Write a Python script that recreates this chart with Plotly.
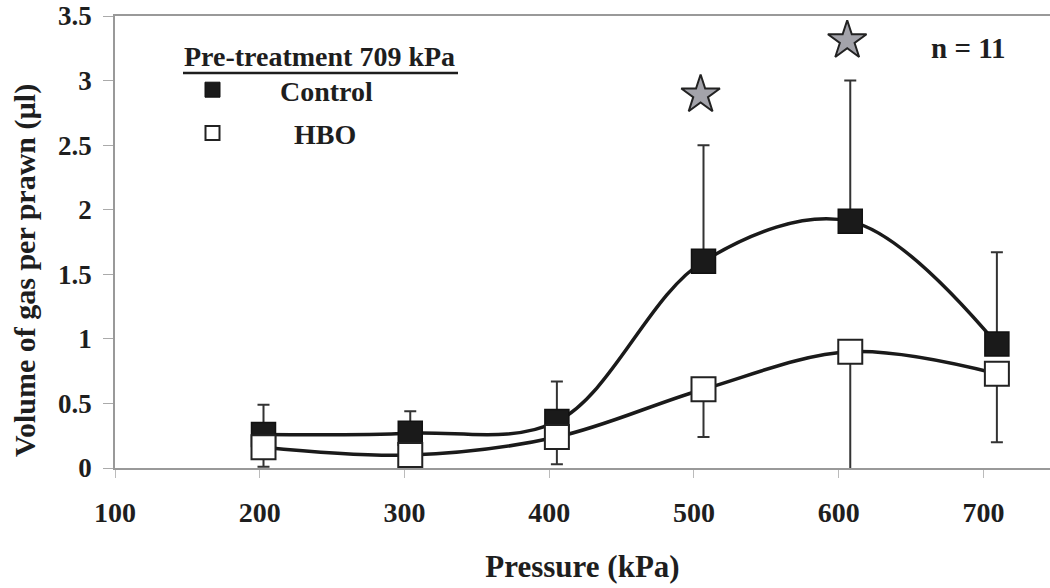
import plotly.graph_objects as go

# ---- data ----
pressure = [202.6, 304.0, 405.3, 506.6, 608.0, 709.3]
control = [0.26, 0.27, 0.36, 1.60, 1.91, 0.96]
control_err_up = [0.23, 0.17, 0.31, 0.90, 1.09, 0.71]
hbo = [0.16, 0.10, 0.24, 0.61, 0.90, 0.73]
hbo_err_down = [0.15, 0.10, 0.21, 0.37, 0.94, 0.53]
star_x = [504.6, 605.9]
star_y = [2.89, 3.31]
x_ticks = [100, 200, 300, 400, 500, 600, 700]
y_ticks = [0, 0.5, 1, 1.5, 2, 2.5, 3, 3.5]
y_ticktext = ["0", "0.5", "1", "1.5", "2", "2.5", "3", "3.5"]

FONT = "Liberation Serif"
TXT = "#1e1e1e"

fig = go.Figure()

fig.add_trace(go.Scatter(
    x=pressure, y=control, mode="lines+markers", showlegend=False,
    line=dict(color="#1a1a1a", width=3.5, shape="spline", smoothing=1),
    marker=dict(symbol="square", size=24, color="#1a1a1a",
                line=dict(color="#111", width=1.5)),
    error_y=dict(type="data", symmetric=False, array=control_err_up,
                 arrayminus=[0] * len(control), color="#333", thickness=2, width=6),
    cliponaxis=False,
))
fig.add_trace(go.Scatter(
    x=pressure, y=hbo, mode="lines+markers", showlegend=False,
    line=dict(color="#1a1a1a", width=3.5, shape="spline", smoothing=1),
    marker=dict(symbol="square", size=24, color="white",
                line=dict(color="#222", width=2)),
    error_y=dict(type="data", symmetric=False, array=[0] * len(hbo),
                 arrayminus=hbo_err_down, color="#333", thickness=2, width=6),
    cliponaxis=False,
))
fig.add_trace(go.Scatter(
    x=star_x, y=star_y, mode="markers", showlegend=False,
    marker=dict(symbol="star", size=29, color="#a3a3aa",
                line=dict(color="#222", width=2)),
    cliponaxis=False,
))
# legend entries
fig.add_trace(go.Scatter(
    x=[None], y=[None], mode="markers", name="Control", legendgroup="a",
    marker=dict(symbol="square", size=15, color="#1a1a1a",
                line=dict(color="#111", width=1)),
))
fig.add_trace(go.Scatter(
    x=[None], y=[None], mode="markers", name="\u00a0\u00a0HBO", legendgroup="b",
    marker=dict(symbol="square", size=14, color="white",
                line=dict(color="#222", width=2)),
))

W, H = 1050, 588
L, T, B = 115, 16, 120
pw, ph = W - L, H - T - B


def px(xs):
    # screen x -> paper
    return (xs - L) / pw


def py(ys):
    # screen y -> paper
    return (H - B - ys) / ph


fig.update_layout(
    width=W, height=H, autosize=False,
    margin=dict(l=L, r=0, t=T, b=B, pad=0, autoexpand=False),
    paper_bgcolor="white", plot_bgcolor="white",
    font=dict(family=FONT, color=TXT, size=28, weight="bold"),
    legend=dict(x=px(145), y=py(65), xanchor="left", yanchor="top",
                itemwidth=125, tracegroupgap=4, bgcolor="rgba(0,0,0,0)",
                font=dict(family=FONT, size=28, color=TXT, weight="bold")),
    xaxis=dict(range=[100, 746], tickvals=x_ticks, showgrid=False, zeroline=False,
               automargin=False,
               showline=True, linecolor="#999", linewidth=1.5, mirror=True,
               ticks="outside", ticklen=8, tickcolor="#bbb", tickwidth=1,
               ticklabelstandoff=11, ticklabeloverflow="allow",
               tickfont=dict(family=FONT, size=28, color=TXT, weight="bold"),
               title=dict(text="Pressure (kPa)", standoff=28,
                          font=dict(family=FONT, size=31, color=TXT, weight="bold"))),
    yaxis=dict(range=[0, 3.5], tickvals=y_ticks, ticktext=y_ticktext,
               showgrid=False, zeroline=False, automargin=False,
               showline=True, linecolor="#999", linewidth=1.5,
               ticks="outside", ticklen=10, tickcolor="#aaa", tickwidth=1,
               ticklabelstandoff=6, ticklabeloverflow="allow",
               tickfont=dict(family=FONT, size=27, color=TXT, weight="bold")),
    annotations=[
        dict(text="Volume of gas per prawn (µl)", textangle=-90, showarrow=False,
             xref="paper", yref="paper", x=px(25), y=py(271),
             xanchor="center", yanchor="middle",
             font=dict(family=FONT, size=30, color=TXT, weight="bold")),
        dict(text="Pre-treatment 709 kPa", showarrow=False,
             xref="paper", yref="paper", x=px(182), y=py(57),
             xanchor="left", yanchor="middle",
             font=dict(family=FONT, size=28, color=TXT, weight="bold")),
        dict(text="n = 11", showarrow=False,
             xref="paper", yref="paper", x=px(968), y=py(48),
             xanchor="center", yanchor="middle",
             font=dict(family=FONT, size=29, color=TXT, weight="bold")),
    ],
    shapes=[
        dict(type="line", xref="paper", yref="paper",
             x0=px(183), x1=px(458), y0=py(73), y1=py(73),
             line=dict(color="#1e1e1e", width=2.5)),
    ],
)

fig.write_html("out.html",
               config={"displayModeBar": False},
               post_script="document.body.style.margin='0px';"
                           "document.body.style.padding='0px';")
